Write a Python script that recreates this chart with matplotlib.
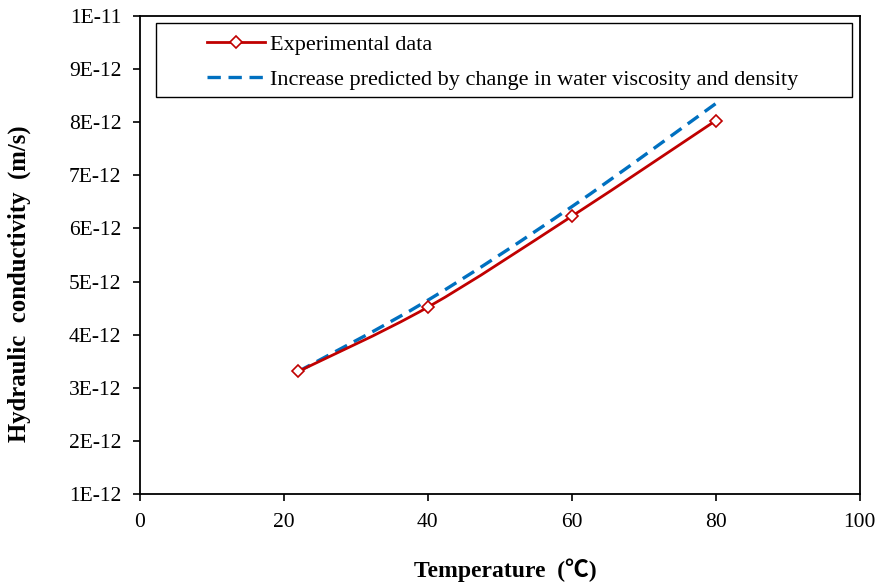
import numpy as np
import matplotlib as mpl
mpl.use("Agg")
import matplotlib.pyplot as plt
from matplotlib.path import Path
from matplotlib.patches import PathPatch, Rectangle
from matplotlib.lines import Line2D

mpl.rcParams['font.family'] = ['Liberation Serif', 'Noto Sans CJK SC', 'DejaVu Sans']
mpl.rcParams['font.size'] = 15.5

# data
temp = [22, 40, 60, 80]
k_exp = [3.31e-12, 4.52e-12, 6.23e-12, 8.03e-12]
k_pred = [3.31e-12, 4.65e-12, 6.41e-12, 8.35e-12]
yticks = [1e-12 * i for i in range(1, 11)]
ylabels = ['%dE-12' % i for i in range(1, 10)] + ['1E-11']

red = '#C00000'
blue = '#0070C0'


def smooth_path(x, y):
    # excel-like smoothed line: cubic bezier through every point
    p = np.column_stack([x, y]).astype(float)
    n = len(p)
    verts = [p[0]]
    codes = [Path.MOVETO]
    for i in range(n - 1):
        p0 = p[i - 1] if i > 0 else p[i]
        p3 = p[i + 2] if i + 2 < n else p[i + 1]
        c1 = p[i] + (p[i + 1] - p0) / 6.0
        c2 = p[i + 1] - (p3 - p[i]) / 6.0
        verts += [c1, c2, p[i + 1]]
        codes += [Path.CURVE4] * 3
    return Path(verts, codes)


fig = plt.figure(figsize=(8.8, 5.87), dpi=100)
ax = fig.add_axes([0.159, 0.158, 0.818, 0.815])

ax.add_patch(PathPatch(smooth_path(temp, k_pred), fill=False, edgecolor=blue,
                       lw=2.4, linestyle=(0, (4, 2.3)), zorder=3))
ax.add_patch(PathPatch(smooth_path(temp, k_exp), fill=False, edgecolor=red,
                       lw=2.0, zorder=4))
ax.plot(temp, k_exp, linestyle='None', marker='D', markersize=6,
        markerfacecolor='white', markeredgecolor=red, markeredgewidth=1.2, zorder=5)

ax.set_xlim(0, 100)
ax.set_ylim(1e-12, 1e-11)
ax.set_xticks([0, 20, 40, 60, 80, 100])
ax.set_yticks(yticks)
ax.set_yticklabels(ylabels)
ax.tick_params(direction='out', length=5, width=1.2, labelsize=15.5, pad=8.5)
for s in ax.spines.values():
    s.set_linewidth(1.3)

ax.set_xlabel('Temperature  (\u2103)', fontsize=17, fontweight='bold')
ax.xaxis.set_label_coords(0.507, -0.135)
ax.set_ylabel('Hydraulic  conductivity  (m/s)', fontsize=17.8, fontweight='bold')
ax.yaxis.set_label_coords(-0.151, 0.44)

# legend frame drawn separately so the entries can sit where they do in the original
ax.add_patch(Rectangle((0.022, 0.831), 0.967, 0.154, transform=ax.transAxes,
                       fill=False, edgecolor='black', lw=1.0, zorder=6))
h1 = Line2D([], [], color=red, lw=2.0, marker='D', markersize=6,
            markerfacecolor='white', markeredgecolor=red, markeredgewidth=1.2)
h2 = Line2D([], [], color=blue, lw=2.4, linestyle=(0, (4, 2.3)))
leg = ax.legend([h1, h2], ['Experimental data',
                           'Increase predicted by change in water viscosity and density'],
                loc='upper left', bbox_to_anchor=(0.093, 0.962), borderpad=0,
                borderaxespad=0, frameon=False, handlelength=2.6, handletextpad=0.25,
                labelspacing=0.65, fontsize=16)

fig.savefig('out.png', dpi=100)
